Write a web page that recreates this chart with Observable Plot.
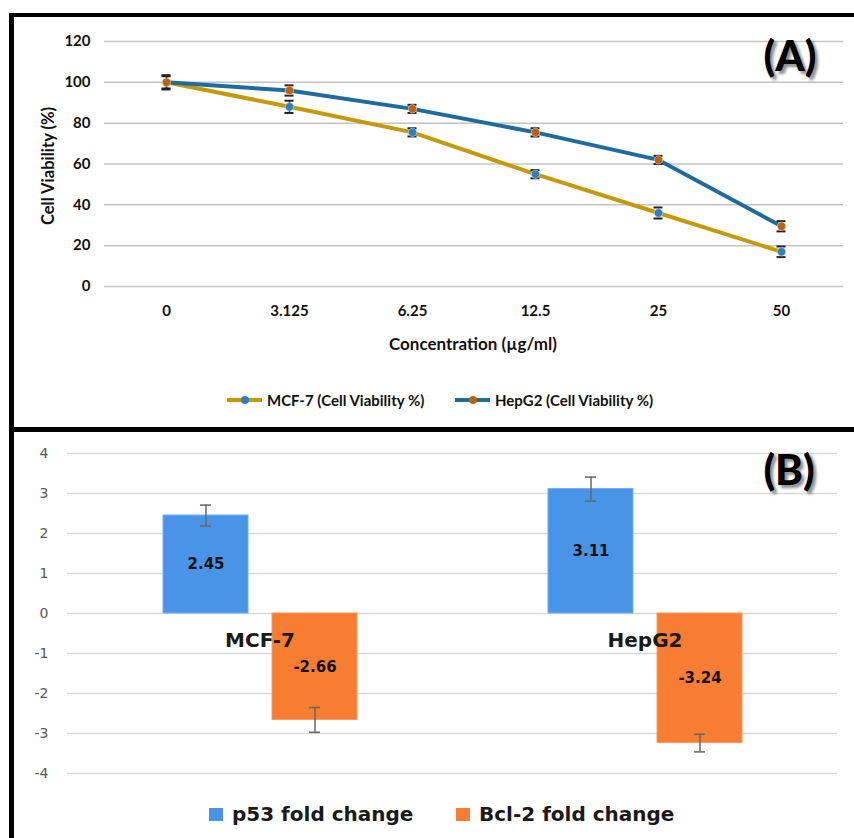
<!DOCTYPE html>
<html>
<head>
<meta charset="utf-8">
<script src="https://cdn.jsdelivr.net/npm/d3@7"></script>
<script src="https://cdn.jsdelivr.net/npm/@observablehq/plot@0.6"></script>
<style>
  body { margin: 0; background: #fff; }
  #wrap { position: relative; width: 854px; height: 838px; background: #fff; overflow: hidden; }
  .abs { position: absolute; }
  .bar { position: absolute; background: #000; }
  .lblA { font-family: Lato, "Open Sans", sans-serif; font-weight: bold; color: #111; white-space: nowrap; }
  .panel { font-family: Lato, sans-serif; font-weight: 900; font-size: 42px; color: #000; line-height: 1;
           text-shadow: 3px 3px 3px rgba(0,0,0,0.45); transform: translate(-50%, -50%); }
  .legB { font-family: "DejaVu Sans", Verdana, sans-serif; font-weight: bold; font-size: 20px; color: #1a1a1a; white-space: nowrap; line-height: 1; }
</style>
</head>
<body>
<div id="wrap">
  <div id="a" class="abs" style="left:0;top:0"></div>
  <div id="b" class="abs" style="left:0;top:430px"></div>
</div>
<script>
// ---------- Panel A data ----------
const conc = ["0", "3.125", "6.25", "12.5", "25", "50"];
const mcf7 = [100, 88, 75.5, 55, 36, 17];
const mcf7Err = [3, 3, 2, 2, 2.7, 2.6];
const hepg2 = [100, 96, 87, 75.5, 62, 29.5];
const hepg2Err = [3.5, 2.5, 2, 2, 2, 2.5];
const yTicksA = [0, 20, 40, 60, 80, 100, 120];
const seriesA = ["MCF-7 (Cell Viability %)", "HepG2 (Cell Viability %)"];

// ---------- Panel B data ----------
const cells = ["MCF-7", "HepG2"];
const genes = ["p53", "Bcl-2"];
const p53 = [2.45, 3.11];
const p53Err = [0.26, 0.3];
const bcl2 = [-2.66, -3.24];
const bcl2Err = [0.31, 0.22];
const yTicksB = [4, 3, 2, 1, 0, -1, -2, -3, -4];
const legendB = ["p53 fold change", "Bcl-2 fold change"];

const lineColor = {MCF: "#C49A0C", Hep: "#1E6C9B"};
const dotColor = {MCF: "#2E80BE", Hep: "#C0600F"};
const barColor = ["#4A94E8", "#F67D31"];

const mcfRows = conc.map((c, i) => ({conc: c, v: mcf7[i], e: mcf7Err[i]}));
const hepRows = conc.map((c, i) => ({conc: c, v: hepg2[i], e: hepg2Err[i]}));

function seriesMarks(rows, lc, dc) {
  return [
    Plot.line(rows, {x: "conc", y: "v", stroke: lc, strokeWidth: 4, strokeLinejoin: "round", strokeLinecap: "round"}),
    Plot.ruleX(rows, {x: "conc", y1: d => d.v - d.e, y2: d => d.v + d.e, stroke: "#222", strokeWidth: 1.5}),
    Plot.ruleY(rows, {x1: "conc", x2: "conc", y: d => d.v - d.e, insetLeft: -4.5, insetRight: -4.5, stroke: "#222", strokeWidth: 2}),
    Plot.ruleY(rows, {x1: "conc", x2: "conc", y: d => d.v + d.e, insetLeft: -4.5, insetRight: -4.5, stroke: "#222", strokeWidth: 2}),
    Plot.dot(rows, {x: "conc", y: "v", r: 4.2, fill: dc, stroke: "#ddd", strokeWidth: 0.6})
  ];
}

const plotA = Plot.plot({
  width: 854, height: 430,
  marginTop: 41, marginBottom: 144, marginLeft: 104, marginRight: 11,
  style: {fontFamily: "Lato, sans-serif", fontSize: "15px", fontWeight: "bold", color: "#111", background: "transparent"},
  x: {type: "point", domain: conc, padding: 0.5},
  y: {domain: [0, 120]},
  marks: [
    Plot.ruleY(yTicksA, {stroke: "#c4c4c4", strokeWidth: 1.5}),
    Plot.axisX({tickSize: 0, tickPadding: 19, label: null, fontSize: 15, fontWeight: "bold"}),
    Plot.axisY(yTicksA, {tickSize: 0, tickPadding: 14, label: null, fontSize: 15, fontWeight: "bold"}),
    ...seriesMarks(mcfRows, lineColor.MCF, dotColor.MCF),
    ...seriesMarks(hepRows, lineColor.Hep, dotColor.Hep)
  ]
});
document.getElementById("a").appendChild(plotA);

// ---------- Panel B ----------
const bars = [];
cells.forEach((c, i) => {
  bars.push({cell: c, gene: "p53", value: p53[i], err: p53Err[i]});
  bars.push({cell: c, gene: "Bcl-2", value: bcl2[i], err: bcl2Err[i]});
});

const plotB = Plot.plot({
  width: 854, height: 408,
  marginTop: 23, marginBottom: 65, marginLeft: 67, marginRight: 17,
  style: {fontFamily: "'DejaVu Sans', Verdana, sans-serif", fontSize: "14px", color: "#595959", background: "transparent"},
  facet: {data: bars, x: "cell"},
  fx: {domain: cells, padding: 0, axis: null, label: null},
  x: {domain: genes, paddingInner: 0.222, paddingOuter: 0.864, axis: null},
  y: {domain: [-4, 4], axis: null},
  color: {domain: genes, range: barColor},
  marks: [
    Plot.ruleY(yTicksB, {stroke: "#d9d9d9", strokeWidth: 1.5}),
    Plot.axisY(yTicksB, {tickSize: 0, tickPadding: 19, tickFormat: d => String(d), label: null, fontSize: 14, fill: "#595959"}),
    Plot.barY(bars, {x: "gene", y: "value", fill: "gene", stroke: d => d.gene === "p53" ? "#6fb0f5" : "#fb9a5c", strokeWidth: 1}),
    Plot.ruleX(bars, {x: "gene", y1: d => d.value - d.err, y2: d => d.value + d.err, stroke: "#666", strokeWidth: 1.5}),
    Plot.tickY(bars, {x: "gene", y: d => d.value - d.err, insetLeft: 37, insetRight: 37, stroke: "#666", strokeWidth: 1.5}),
    Plot.tickY(bars, {x: "gene", y: d => d.value + d.err, insetLeft: 37, insetRight: 37, stroke: "#666", strokeWidth: 1.5}),
    Plot.text(bars, {x: "gene", y: d => d.value / 2, text: d => d.value.toFixed(2), fontSize: 15, fontWeight: "bold", fill: "#111"}),
    Plot.text(bars, {filter: d => d.gene === "p53", y: 0, dy: 27, text: "cell", fontSize: 20, fontWeight: "bold", fill: "#1a1a1a"})
  ]
});
document.getElementById("b").appendChild(plotB);

// ---------- Frame, titles, legends (HTML) ----------
const wrap = document.getElementById("wrap");
function add(html) { wrap.insertAdjacentHTML("beforeend", html); }
add('<div class="bar" style="left:9px;top:13px;width:845px;height:4px"></div>');
add('<div class="bar" style="left:9px;top:13px;width:4.5px;height:825px"></div>');
add('<div class="bar" style="left:9px;top:427px;width:845px;height:5px"></div>');

add('<div class="abs panel" style="left:790px;top:55px">(A)</div>');
add('<div class="abs panel" style="left:789px;top:469px">(B)</div>');

add('<div class="abs lblA" style="left:473px;top:343px;transform:translate(-50%,-50%);font-size:17px">Concentration (µg/ml)</div>');
add('<div class="abs lblA" style="left:48px;top:166px;transform:translate(-50%,-50%) rotate(-90deg);font-size:16.5px">Cell Viability (%)</div>');

function legA(x, lc, dc, text) {
  add(`<div class="abs" style="left:${x}px;top:398px;width:35px;height:4px;background:${lc}"></div>`);
  add(`<div class="abs" style="left:${x + 13.5}px;top:396px;width:8px;height:8px;border-radius:50%;background:${dc}"></div>`);
  add(`<div class="abs lblA" style="left:${x + 40}px;top:400px;transform:translateY(-50%);font-size:15px">${text}</div>`);
}
legA(227, lineColor.MCF, dotColor.MCF, seriesA[0]);
legA(455, lineColor.Hep, dotColor.Hep, seriesA[1]);

function legB(x, col, text) {
  add(`<div class="abs" style="left:${x}px;top:808px;width:14px;height:13px;background:${col}"></div>`);
  add(`<div class="abs legB" style="left:${x + 23}px;top:814px;transform:translateY(-50%)">${text}</div>`);
}
legB(209, barColor[0], legendB[0]);
legB(456, barColor[1], legendB[1]);
</script>
</body>
</html>
